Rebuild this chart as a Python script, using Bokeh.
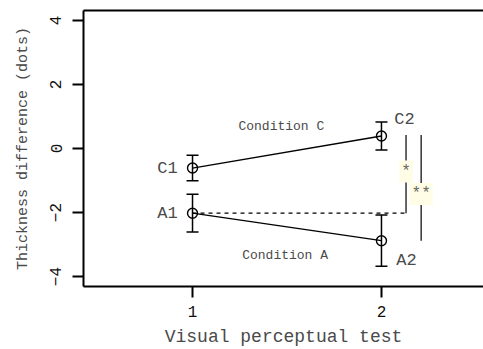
from bokeh.plotting import figure
from bokeh.models import (Range1d, FixedTicker, LinearAxis, Whisker, ColumnDataSource,
                          Label)
from bokeh.core.properties import value
from bokeh.embed import file_html
from bokeh.resources import INLINE

# ---- data ----
tests = [1, 2]
x_tick_labels = ["1", "2"]
y_ticks = [-4, -2, 0, 2, 4]

A_mean = [-2.02, -2.88]
A_err = [0.59, 0.80]
C_mean = [-0.61, 0.39]
C_err = [0.40, 0.44]

A_names = ["A1", "A2"]
C_names = ["C1", "C2"]

cond_labels = ["Condition C", "Condition A"]
cond_x = [1.47, 1.49]
cond_y = [0.70, -3.33]

sig_labels = ["*", "**"]
sig_x = [2.13, 2.21]
sig_top = [0.42, 0.42]
sig_bottom = [A_mean[0], A_mean[1]]
sig_label_y = [-0.72, -1.42]

x_title = "Visual perceptual test"
y_title = "Thickness difference (dots)"

FONT = "Liberation Mono"
TXT = "#4a4a4a"

p = figure(width=483, height=349, output_backend="svg", toolbar_location=None,
           x_range=Range1d(0.423, 2.54), y_range=Range1d(-4.31, 4.31),
           min_border_left=83, min_border_right=0, min_border_top=10,
           min_border_bottom=63)
p.outline_line_color = None
p.xgrid.visible = False
p.ygrid.visible = False
p.background_fill_color = "white"
p.border_fill_color = "white"

# axes
for ax in (p.xaxis[0], p.yaxis[0]):
    ax.axis_line_width = 2
    ax.axis_line_color = "black"
    ax.major_tick_line_width = 2
    ax.major_tick_line_color = "black"
    ax.major_tick_in = 0
    ax.major_tick_out = 11
    ax.minor_tick_line_color = None
    ax.major_label_text_font = FONT
    ax.major_label_text_font_size = "16px"
    ax.major_label_text_color = "#111111"
    ax.axis_label_text_font = FONT
    ax.axis_label_text_font_style = "normal"
    ax.axis_label_text_color = TXT

p.xaxis[0].ticker = FixedTicker(ticks=tests)
p.xaxis[0].major_label_overrides = {t: s for t, s in zip(tests, x_tick_labels)}
p.xaxis[0].axis_label = x_title
p.xaxis[0].axis_label_text_font_size = "18px"
p.xaxis[0].major_label_standoff = 8
p.xaxis[0].axis_label_standoff = 7

p.yaxis[0].ticker = FixedTicker(ticks=y_ticks)
p.yaxis[0].major_label_orientation = "vertical"
p.yaxis[0].axis_label = y_title
p.yaxis[0].axis_label_text_font_size = "15px"
p.yaxis[0].major_label_standoff = 11
p.yaxis[0].axis_label_standoff = 16

top = LinearAxis(ticker=FixedTicker(ticks=[]), axis_line_width=2, axis_line_color="black",
                 major_tick_out=0, major_tick_in=0, minor_tick_out=0, minor_tick_in=0,
                 major_label_text_font_size="0px", major_label_standoff=0)
p.add_layout(top, "above")

# significance bracket (dashed from A1)
p.line([tests[0], sig_x[0]], [A_mean[0], A_mean[0]], line_color="black",
       line_width=1.2, line_dash="4 4")
p.segment(x0=sig_x, y0=sig_bottom, x1=sig_x, y1=sig_top, line_color="black", line_width=1.2)

# condition lines
p.line(tests, A_mean, line_color="black", line_width=1.3)
p.line(tests, C_mean, line_color="black", line_width=1.3)

# error bars
for mean, err in ((A_mean, A_err), (C_mean, C_err)):
    src = ColumnDataSource(dict(x=tests, lo=[m - e for m, e in zip(mean, err)],
                                hi=[m + e for m, e in zip(mean, err)]))
    w = Whisker(source=src, base="x", lower="lo", upper="hi",
                line_color="black", line_width=1.5)
    w.upper_head.size = 12
    w.lower_head.size = 12
    w.upper_head.line_width = 1.5
    w.lower_head.line_width = 1.5
    p.add_layout(w)

p.scatter(tests, A_mean, marker="circle", size=10, fill_color=None, line_color="black",
          line_width=1.4)
p.scatter(tests, C_mean, marker="circle", size=10, fill_color=None, line_color="black",
          line_width=1.4)

# point labels
p.text(x=tests, y=A_mean, text=A_names, x_offset=[-25, 25], y_offset=[0, 20],
       text_font=value(FONT), text_font_size="17px", text_color=TXT,
       text_align="center", text_baseline="middle")
p.text(x=tests, y=C_mean, text=C_names, x_offset=[-25, 23], y_offset=[0, -17],
       text_font=value(FONT), text_font_size="17px", text_color=TXT,
       text_align="center", text_baseline="middle")

# condition labels
p.text(x=cond_x, y=cond_y, text=cond_labels, text_font=value(FONT),
       text_font_size="13px", text_color=TXT, text_align="center",
       text_baseline="middle")

# significance labels
for lx, ly, lt in zip(sig_x, sig_label_y, sig_labels):
    p.add_layout(Label(x=lx, y=ly, text=lt, text_font=FONT, text_font_size="16px",
                       text_color="#666666", text_align="center",
                       text_baseline="middle", background_fill_color="#FFFDE6",
                       padding=2))

open("out.html", "w").write(file_html(p, INLINE))
